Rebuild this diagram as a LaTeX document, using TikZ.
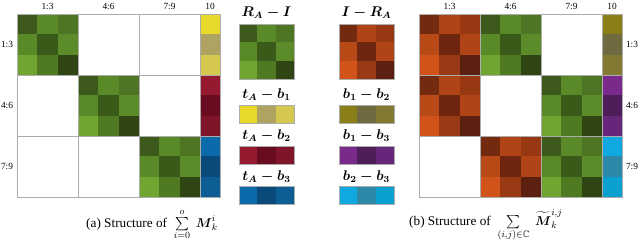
\documentclass[tikz,border=0pt]{standalone}
\usepackage{amsmath,amssymb}
\usepackage{fontspec}
\setmainfont{Liberation Serif}
\usepackage{tikz}
\usetikzlibrary{positioning}

% cell colours
\definecolor{grn00}{HTML}{3D5A1C}\definecolor{grn01}{HTML}{5A8A28}\definecolor{grn02}{HTML}{4E7524}
\definecolor{grn10}{HTML}{5A8A28}\definecolor{grn11}{HTML}{3A5A1A}\definecolor{grn12}{HTML}{5C8C2A}
\definecolor{grn20}{HTML}{6FA530}\definecolor{grn21}{HTML}{4F7A22}\definecolor{grn22}{HTML}{2F4614}
\definecolor{org00}{HTML}{732A0F}\definecolor{org01}{HTML}{B04416}\definecolor{org02}{HTML}{973812}
\definecolor{org10}{HTML}{B84A18}\definecolor{org11}{HTML}{6E2610}\definecolor{org12}{HTML}{B04416}
\definecolor{org20}{HTML}{D0541A}\definecolor{org21}{HTML}{983A14}\definecolor{org22}{HTML}{5C2010}
\definecolor{yel0}{HTML}{E8D82A}\definecolor{yel1}{HTML}{AEA360}\definecolor{yel2}{HTML}{D4C850}
\definecolor{crm0}{HTML}{951A30}\definecolor{crm1}{HTML}{6A0C20}\definecolor{crm2}{HTML}{801428}
\definecolor{blu0}{HTML}{0A6AAA}\definecolor{blu1}{HTML}{0A4A7A}\definecolor{blu2}{HTML}{0E5E96}
\definecolor{olv0}{HTML}{8A7E18}\definecolor{olv1}{HTML}{706A40}\definecolor{olv2}{HTML}{827A30}
\definecolor{pur0}{HTML}{7A2A8A}\definecolor{pur1}{HTML}{4E1E5A}\definecolor{pur2}{HTML}{66267A}
\definecolor{cyn0}{HTML}{10A8E0}\definecolor{cyn1}{HTML}{2E88A8}\definecolor{cyn2}{HTML}{0AA0D0}

% 3x3 block: x, y, size, palette
\newcommand{\blockthree}[4]{%
  \foreach \rr in {0,1,2}{\foreach \cc in {0,1,2}{%
    \fill[#4\rr\cc] ({#1+\cc*#3/3},{#2+\rr*#3/3}) rectangle ++({#3/3},{#3/3});}}
  \draw[frame] (#1,#2) rectangle ++(#3,#3);}
% horizontal strip: x, y, width, height, palette
\newcommand{\striph}[5]{%
  \foreach \cc in {0,1,2}{\fill[#5\cc] ({#1+\cc*#3/3},#2) rectangle ++({#3/3},#4);}
  \draw[frame] (#1,#2) rectangle ++(#3,#4);}
% vertical strip: x, y, width, height, palette
\newcommand{\stripv}[5]{%
  \foreach \rr in {0,1,2}{\fill[#5\rr] (#1,{#2+\rr*#4/3}) rectangle ++(#3,{#4/3});}
  \draw[frame] (#1,#2) rectangle ++(#3,#4);}

\begin{document}
\begin{tikzpicture}[
    x=0.03cm, y=-0.03cm,
    frame/.style={draw=gray!65, line width=0.5pt},
    axlabel/.style={font=\fontsize{8}{9}\selectfont, inner sep=0pt},
    lgtitle/.style={font=\fontsize{12}{14}\selectfont, inner sep=0pt},
    capt/.style={font=\fontsize{11.3}{13}\selectfont, anchor=base west, inner sep=0pt}
]
\useasboundingbox (0,0) rectangle (640,242);

% (a) left matrix
\blockthree{17}{14}{61}{grn}
\blockthree{78}{75}{61}{grn}
\blockthree{139}{136}{61}{grn}
\draw[frame] (78,14) rectangle ++(61,61);
\draw[frame] (139,14) rectangle ++(61,61);
\draw[frame] (17,75) rectangle ++(61,61);
\draw[frame] (139,75) rectangle ++(61,61);
\draw[frame] (17,136) rectangle ++(61,61);
\draw[frame] (78,136) rectangle ++(61,61);
\stripv{200}{14}{20}{61}{yel}
\stripv{200}{75}{20}{61}{crm}
\stripv{200}{136}{20}{61}{blu}

\node[axlabel] (ac1) at (47.5,6) {1:3};
\node[axlabel] (ac2) at (108.5,6) {4:6};
\node[axlabel] (ac3) at (169.5,6) {7:9};
\node[axlabel] (ac4) at (210,6) {10};
\node[axlabel] (ar1) at (7,44.5) {1:3};
\node[axlabel] (ar2) at (7,105.5) {4:6};
\node[axlabel] (ar3) at (7,166.5) {7:9};

% legend
\node[lgtitle] (lg1) at (266.5,13) {$\boldsymbol{R_A - I}$};
\node[lgtitle] (lg2) at (366.5,13) {$\boldsymbol{I - R_A}$};
\blockthree{239}{24}{55}{grn}
\blockthree{339}{24}{55}{org}
\node[lgtitle] (lg3) at (266.5,95) {$\boldsymbol{t_A - b_1}$};
\node[lgtitle] (lg4) at (366.5,95) {$\boldsymbol{b_1 - b_2}$};
\striph{239}{105}{55}{18}{yel}
\striph{339}{105}{55}{18}{olv}
\node[lgtitle] (lg5) at (266.5,136) {$\boldsymbol{t_A - b_2}$};
\node[lgtitle] (lg6) at (366.5,136) {$\boldsymbol{b_1 - b_3}$};
\striph{239}{146}{55}{18}{crm}
\striph{339}{146}{55}{18}{pur}
\node[lgtitle] (lg7) at (266.5,177) {$\boldsymbol{t_A - b_3}$};
\node[lgtitle] (lg8) at (366.5,177) {$\boldsymbol{b_2 - b_3}$};
\striph{239}{186}{55}{18}{blu}
\striph{339}{186}{55}{18}{cyn}

% (b) right matrix
\blockthree{419}{14}{61}{org}
\blockthree{419}{75}{61}{org}
\blockthree{480}{136}{61}{org}
\blockthree{480}{14}{61}{grn}
\blockthree{541}{75}{61}{grn}
\blockthree{541}{136}{61}{grn}
\draw[frame] (541,14) rectangle ++(61,61);
\draw[frame] (480,75) rectangle ++(61,61);
\draw[frame] (419,136) rectangle ++(61,61);
\stripv{602}{14}{20}{61}{olv}
\stripv{602}{75}{20}{61}{pur}
\stripv{602}{136}{20}{61}{cyn}

\node[axlabel] (bc1) at (449.5,6) {1:3};
\node[axlabel] (bc2) at (510.5,6) {4:6};
\node[axlabel] (bc3) at (571.5,6) {7:9};
\node[axlabel] (bc4) at (612,6) {10};
\node[axlabel] (br1) at (632,44.5) {1:3};
\node[axlabel] (br2) at (632,105.5) {4:6};
\node[axlabel] (br3) at (632,166.5) {7:9};

% captions
\node[capt] (capa) at (86,227) {(a) Structure of $\;\sum\limits_{i=0}^{o}\; \boldsymbol{M}_k^i$};
\node[capt] (capb) at (409,225) {(b) Structure of $\;\sum\limits_{(i,j)\in\mathbb{C}}\; \widetilde{\boldsymbol{M}}_k^{i,j}$};

\end{tikzpicture}
\end{document}
